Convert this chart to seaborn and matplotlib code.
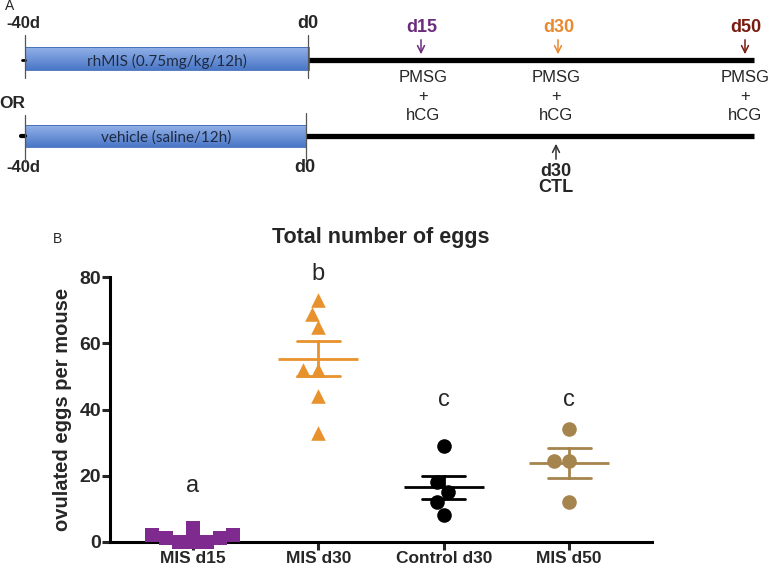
import numpy as np
import pandas as pd
import matplotlib
matplotlib.use("Agg")
import matplotlib.pyplot as plt
from matplotlib.colors import LinearSegmentedColormap
import seaborn as sns

# ---------------- data ----------------
groups = ["MIS d15", "MIS d30", "Control d30", "MIS d50"]
mis_d15 = [0, 1, 2, 0, 4, 2, 1, 0]
mis_d30 = [73, 69, 65, 52, 52, 44, 33]
control_d30 = [29, 18, 15, 12, 8]
mis_d50 = [34, 24.5, 24.5, 12]
group_values = [mis_d15, mis_d30, control_d30, mis_d50]
group_colors = ["#7E2A8F", "#E8922D", "#000000", "#A6844E"]
group_markers = ["s", "^", "o", "o"]
group_sizes = [9.5, 10.5, 10.5, 10.5]
letters = ["a", "b", "c", "c"]
letter_y = [17, 81, 43, 43]
yticks = [0, 20, 40, 60, 80]

df = pd.DataFrame({
    "group": np.repeat(groups, [len(v) for v in group_values]),
    "value": np.concatenate([np.asarray(v, float) for v in group_values]),
})

sns.set_style("white")
plt.rcParams["font.family"] = ["Liberation Sans", "DejaVu Sans"]

W, H = 768, 568
fig = plt.figure(figsize=(W / 100, H / 100), dpi=100)

# ---------------- panel A (diagram) ----------------
ax0 = fig.add_axes([0, 0, 1, 1])
ax0.set_xlim(0, W)
ax0.set_ylim(H, 0)
ax0.axis("off")

cmap = LinearSegmentedColormap.from_list("blu", ["#93B1E8", "#4A77C7"])
grad = np.linspace(0, 1, 60).reshape(-1, 1)
for (x0, x1, yt, yb) in [(25, 309, 47, 70), (25, 306, 125, 147)]:
    ax0.imshow(grad, extent=[x0, x1, yb, yt], aspect="auto", cmap=cmap, zorder=2)
    ax0.plot([x0, x1, x1, x0, x0], [yt, yt, yb, yb, yt], color="#3E68B4", lw=0.6, zorder=3)
ax0.set_xlim(0, W)
ax0.set_ylim(H, 0)

# black timeline
ax0.plot([309, 754], [60, 60], color="black", lw=3.8, solid_capstyle="butt", zorder=3)
ax0.plot([306, 754], [136, 136], color="black", lw=3.8, solid_capstyle="butt", zorder=3)
ax0.plot([22, 25], [60, 60], color="black", lw=2, zorder=3)
ax0.plot([21, 25], [136, 136], color="black", lw=3, zorder=3)
# vertical markers
for x, y0, y1 in [(25, 35, 78), (308, 35, 78), (25, 115, 162), (306, 113, 160)]:
    ax0.plot([x, x], [y0, y1], color="#555555", lw=0.9, zorder=4)

bold = dict(fontweight="bold", ha="center", va="center")
ax0.text(5, 6, "A", fontsize=10, ha="left", va="center")
ax0.text(23, 23, "-40d", fontsize=12, **bold)
ax0.text(308, 23, "d0", fontsize=13, **bold)
ax0.text(12, 103, "OR", fontsize=12.5, **bold)
ax0.text(23, 168, "-40d", fontsize=12, **bold)
ax0.text(305, 168, "d0", fontsize=13, **bold)
ax0.text(167, 61, "rhMIS (0.75mg/kg/12h)", fontsize=11, color="#1E2A40",
         ha="center", va="center", family=["Lato", "DejaVu Sans"], zorder=5)
ax0.text(166, 138, "vehicle (saline/12h)", fontsize=11, color="#1E2A40",
         ha="center", va="center", family=["Lato", "DejaVu Sans"], zorder=5)

for x, lab, col in [(422, "d15", "#6B2C7E"), (559, "d30", "#E8892E"), (746, "d50", "#7A1B10")]:
    ax0.text(x, 28, lab, fontsize=13, color=col, **bold)
    ax0.annotate("", xy=(x - 1, 57), xytext=(x - 1, 37),
                 arrowprops=dict(arrowstyle="->,head_length=0.5,head_width=0.25", color=col, lw=1.1))
for x in [423, 556, 745]:
    ax0.text(x, 77, "PMSG", fontsize=12, ha="center", va="center")
    ax0.text(x, 96, "+", fontsize=12, ha="center", va="center")
    ax0.text(x, 116, "hCG", fontsize=12, ha="center", va="center")

ax0.annotate("", xy=(556, 141), xytext=(556, 162),
             arrowprops=dict(arrowstyle="->,head_length=0.5,head_width=0.25", color="#333333", lw=1.1))
ax0.text(556, 171, "d30", fontsize=13, **bold)
ax0.text(556, 187, "CTL", fontsize=13, **bold)

# ---------------- panel B (chart) ----------------
left, right = 110 / W, 652 / W
bottom, top = 1 - 541.7 / H, 1 - 277.3 / H
ax = fig.add_axes([left, bottom, right - left, top - bottom])

for g, col, mk, sz in zip(groups, group_colors, group_markers, group_sizes):
    sub = df[df["group"] == g]
    sns.swarmplot(data=sub, x="group", y="value", order=groups, color=col,
                  marker=mk, size=sz, linewidth=0, ax=ax, zorder=5, warn_thresh=1)

sns.pointplot(data=df, x="group", y="value", order=groups, hue="group",
              hue_order=groups, palette=group_colors, errorbar="se", capsize=0.34,
              marker="_", markersize=58, markeredgewidth=2.0, linestyle="none",
              err_kws={"linewidth": 2.0}, legend=False, ax=ax, zorder=6)

for coll in ax.collections:
    coll.set_clip_on(False)
for ln in ax.lines:
    ln.set_clip_on(False)

ax.set_xlim(-0.66, 3.66)
ax.set_ylim(0, 80)
ax.set_yticks(yticks)
ax.set_xlabel("")
ax.set_ylabel("ovulated eggs per mouse", fontsize=14.5, fontweight="bold")
ax.yaxis.set_label_coords(-0.07, 0.5)
for lab in ax.get_yticklabels():
    lab.set_fontweight("bold")
for lab in ax.get_xticklabels():
    lab.set_fontweight("bold")
ax.tick_params(axis="y", labelsize=14, length=5.5, width=2.2, pad=1, direction="out")
ax.tick_params(axis="x", labelsize=12.5, length=5.5, width=2.2, pad=1, direction="out")
ax.tick_params(left=True, bottom=True)
sns.despine(ax=ax)
for s in ["left", "bottom"]:
    ax.spines[s].set_linewidth(2.2)
    ax.spines[s].set_color("black")
    ax.spines[s].set_zorder(2)

for i, (lt, ly) in enumerate(zip(letters, letter_y)):
    ax.text(i, ly, lt, fontsize=17, ha="center", va="center", clip_on=False)

fig.text(381 / W, 1 - 238 / H, "Total number of eggs", fontsize=15.5, fontweight="bold",
         ha="center", va="center")
fig.text(53 / W, 1 - 239 / H, "B", fontsize=10, ha="left", va="center")

fig.savefig("out.png", dpi=100)
